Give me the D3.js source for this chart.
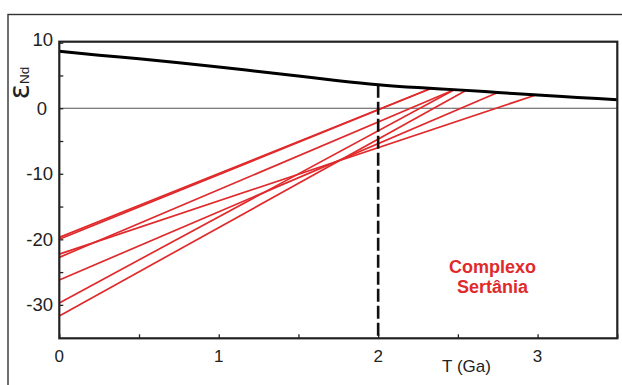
<!DOCTYPE html>
<html><head><meta charset="utf-8">
<script src="https://cdn.jsdelivr.net/npm/d3@7"></script>
<style>body{margin:0;background:#fff}svg{display:block}text{font-family:"Liberation Sans",Arial,Helvetica,sans-serif}</style>
</head><body><svg width="622" height="385"></svg>
<script>
// ---- data ----
const xTickLabels = [0, 1, 2, 3];
const yTickLabels = [-30, -20, -10, 0, 10];
const dmT = [0, 0.25, 0.5, 0.75, 1, 1.25, 1.5, 1.75, 2, 2.25, 2.5, 2.75, 3, 3.25, 3.5];
const dmE = [8.7, 8.1, 7.55, 6.95, 6.3, 5.6, 4.9, 4.2, 3.6, 3.15, 2.8, 2.4, 2.0, 1.65, 1.3];
const startE = [-19.7, -20.0, -22.25, -22.75, -26.2, -29.7, -31.7];
const tdm    = [2.33, 2.33, 2.98, 2.48, 2.75, 2.48, 2.55];
const tdmE   = [3.0, 3.0, 1.95, 2.85, 2.4, 2.85, 2.7];
const refAge = 2;
const refAgeE = 3.6;
const labelLines = ["Complexo", "Sertânia"];

// ---- layout ----
const svg = d3.select("svg");
const x = d3.scaleLinear().domain([0, 3.5]).range([59.3, 617.3]);
const y = d3.scaleLinear().domain([-35.1, 10.15]).range([338.3, 41.7]);

// outer frame
svg.append("rect").attr("x", 8).attr("y", 14.5).attr("width", 700).attr("height", 500)
  .attr("fill", "none").attr("stroke", "#333").attr("stroke-width", 1.4);

// zero line
svg.append("line").attr("x1", x(0)).attr("x2", x(3.5)).attr("y1", y(0)).attr("y2", y(0))
  .attr("stroke", "#555").attr("stroke-width", 1.2);

// axes with inner ticks
const xAxis = d3.axisBottom(x).tickValues(d3.range(0, 3.51, 0.5)).tickSize(-4).tickFormat("");
const gx = svg.append("g").attr("transform", `translate(0,${y(-35.1)})`).call(xAxis);
const yAxis = d3.axisLeft(y).tickValues(d3.range(-30, 10.1, 5)).tickSize(-4).tickFormat("");
const gy = svg.append("g").attr("transform", `translate(${x(0)},0)`).call(yAxis);
[gx, gy].forEach(g => {
  g.select(".domain").remove();
  g.selectAll(".tick line").attr("stroke", "#222").attr("stroke-width", 1.3);
});

// tick labels
svg.append("g").selectAll("text").data(xTickLabels).join("text")
  .attr("x", d => x(d)).attr("y", 361.7).attr("text-anchor", "middle")
  .attr("font-size", 17).attr("fill", "#222").text(d => d);
svg.append("g").selectAll("text").data(yTickLabels).join("text")
  .attr("x", d => d === 0 ? 47 : 53).attr("y", d => (d === 10 ? y(d) - 3 : y(d)) + 6.5)
  .attr("text-anchor", "end").attr("font-size", 18.5).attr("fill", "#222").text(d => d);

// axis titles
svg.append("text").attr("x", 466.5).attr("y", 372).attr("text-anchor", "middle")
  .attr("font-size", 17).attr("fill", "#222").text("T (Ga)");
const yl = svg.append("text").attr("transform", "translate(28.5,83) rotate(-90)")
  .attr("text-anchor", "middle").attr("fill", "#222");
yl.append("tspan").attr("font-size", 28).attr("font-family", "DejaVu Sans").text("ε");
yl.append("tspan").attr("font-size", 13.5).text("Nd");

// red evolution lines
const lines = startE.map((e, i) => ({ s: e, t: tdm[i], e: tdmE[i] }));
svg.append("g").selectAll("line").data(lines).join("line")
  .attr("x1", x(0)).attr("y1", d => y(d.s))
  .attr("x2", d => x(d.t)).attr("y2", d => y(d.e))
  .attr("stroke", "#e02a2c").attr("stroke-width", 1.7);

// dashed reference
svg.append("line").attr("x1", x(refAge)).attr("x2", x(refAge))
  .attr("y1", y(refAgeE)).attr("y2", y(-35.1))
  .attr("stroke", "#111").attr("stroke-width", 2.6).attr("stroke-dasharray", "13,4");

// depleted mantle curve
const dm = dmT.map((t, i) => [t, dmE[i]]);
svg.append("path").datum(dm)
  .attr("d", d3.line().curve(d3.curveMonotoneX).x(d => x(d[0])).y(d => y(d[1])))
  .attr("fill", "none").attr("stroke", "#000").attr("stroke-width", 3);

// plot frame
svg.append("rect").attr("x", x(0)).attr("y", y(10.15)).attr("width", x(3.5) - x(0)).attr("height", y(-35.1) - y(10.15))
  .attr("fill", "none").attr("stroke", "#222").attr("stroke-width", 2.2);

// label
svg.append("g").selectAll("text").data(labelLines).join("text")
  .attr("x", 492.5).attr("y", (d, i) => 273.3 + i * 20).attr("text-anchor", "middle")
  .attr("font-size", 18).attr("font-weight", "bold").attr("fill", "#e02a2c").text(d => d);
</script></body></html>
